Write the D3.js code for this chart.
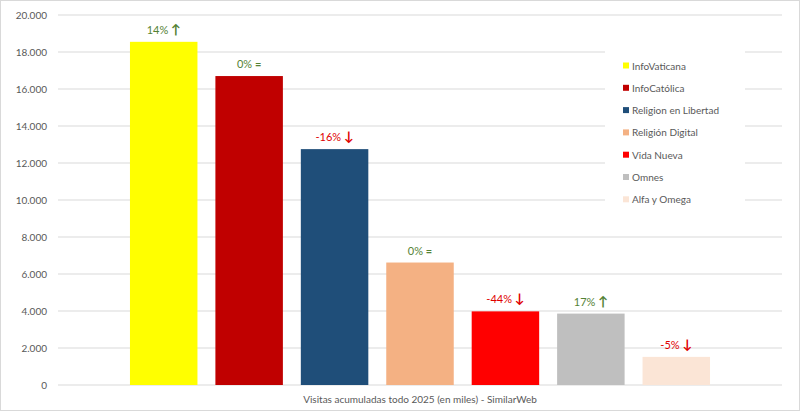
<!DOCTYPE html><html><head><meta charset="utf-8">
<script src="https://cdn.jsdelivr.net/npm/d3@7"></script>
<style>body{margin:0;background:#fff}text{font-family:Lato,"Open Sans",sans-serif}</style></head><body>
<svg width="800" height="411"></svg>
<script>
const categories=["InfoVaticana","InfoCatólica","Religion en Libertad","Religión Digital","Vida Nueva","Omnes","Alfa y Omega"];
const values=[18550,16700,12750,6620,3980,3860,1520];
const changes=["14%","0%","-16%","0%","-44%","17%","-5%"];
const trends=["up","eq","down","eq","down","up","down"];
const colors=["#ffff00","#c00000","#1f4e79","#f4b183","#ff0000","#bfbfbf","#fbe5d6"];
const ticks=[0,2000,4000,6000,8000,10000,12000,14000,16000,18000,20000];
const svg=d3.select("svg");
svg.append("rect").attr("x",0.5).attr("y",0.5).attr("width",799).attr("height",410).attr("fill","#fff").attr("stroke","#d9d9d9");
const y=d3.scaleLinear().domain([0,20000]).range([385,15]);
const x=d3.scaleBand().domain(categories).range([121,719]).paddingInner(0.21).paddingOuter(0.105);
const fmt=v=>d3.format(",")(v).replace(/,/g,".");
svg.append("g").selectAll("line").data(ticks).join("line").attr("x1",58).attr("x2",782).attr("y1",d=>y(d)).attr("y2",d=>y(d)).attr("stroke","#d9d9d9");
svg.append("g").selectAll("text").data(ticks).join("text").attr("x",47).attr("y",d=>y(d)+4).attr("text-anchor","end").attr("font-size",10).attr("fill","#595959").text(fmt);
svg.append("g").selectAll("rect").data(categories).join("rect").attr("x",d=>x(d)).attr("width",x.bandwidth()).attr("y",(d,i)=>y(values[i])).attr("height",(d,i)=>y(0)-y(values[i])).attr("fill",(d,i)=>colors[i]);
const lab=svg.append("g").selectAll("text").data(categories).join("text").attr("x",d=>x(d)+x.bandwidth()/2).attr("y",(d,i)=>y(values[i])-8).attr("text-anchor","middle").attr("font-size",11)
 .attr("fill",(d,i)=>trends[i]==="down"?"#e00000":(trends[i]==="up"?"#548235":"#548235"));
lab.append("tspan").text((d,i)=>changes[i]+" ");
lab.append("tspan").attr("font-weight","bold").attr("font-size",(d,i)=>trends[i]==="eq"?11:13).text((d,i)=>trends[i]==="up"?"↑":trends[i]==="down"?"↓":"=");
svg.append("rect").attr("x",605).attr("y",50).attr("width",140).attr("height",160).attr("fill","#fff");
const lg=svg.append("g").selectAll("g").data(categories).join("g").attr("transform",(d,i)=>`translate(623,${66+i*22.3})`);
lg.append("rect").attr("x",0).attr("y",-3.5).attr("width",6).attr("height",6).attr("fill",(d,i)=>colors[i]);
lg.append("text").attr("x",9).attr("y",3.5).attr("font-size",10).attr("fill","#595959").text(d=>d);
svg.append("text").attr("x",420).attr("y",403).attr("text-anchor","middle").attr("font-size",10).attr("fill","#595959").text("Visitas acumuladas todo 2025 (en miles) - SimilarWeb");
</script></body></html>
